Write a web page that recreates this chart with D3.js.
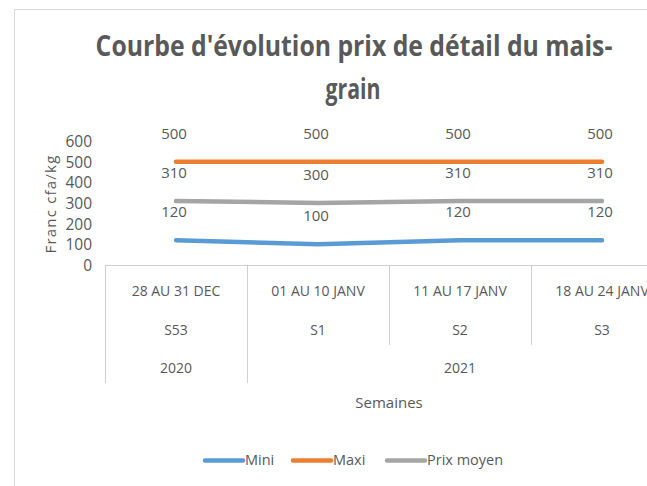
<!DOCTYPE html>
<html><head><meta charset="utf-8">
<script src="https://cdn.jsdelivr.net/npm/d3@7"></script>
<style>
html,body{margin:0;padding:0;background:#fff;overflow:hidden;}
text{font-family:"Open Sans",sans-serif;fill:#595959;}
</style></head>
<body><svg id="c" width="647" height="486"></svg>
<script>
const categories = ["28 AU 31 DEC","01 AU 10 JANV","11 AU 17 JANV","18 AU 24 JANV"];
const weeks = ["S53","S1","S2","S3"];
const years = ["2020","2021","2021","2021"];
const miniValues = [120,100,120,120];
const maxiValues = [500,500,500,500];
const moyenValues = [310,300,310,310];
const seriesNames = ["Mini","Maxi","Prix moyen"];
const seriesColors = ["#5B9BD5","#ED7D31","#A5A5A5"];
const yTickValues = [0,100,200,300,400,500,600];
const titleLines = ["Courbe d'évolution prix de détail du mais-","grain"];

const svg = d3.select("#c");

// chart border
svg.append("path").attr("d","M14.5,486 V9.5 H647").attr("fill","none").attr("stroke","#d9d9d9").attr("stroke-width",1);

function fitX(sel, w, cx){
  const n = sel.node(); const len = n.getComputedTextLength();
  const s = w/len;
  sel.attr("transform",`translate(${cx},0) scale(${s},1) translate(${-cx},0)`);
}

// title
const t1 = svg.append("text").attr("x",354).attr("y",56).attr("text-anchor","middle")
  .style("font-size","28px").style("font-weight","bold").text(titleLines[0]);
fitX(t1, 517, 354);
const t2 = svg.append("text").attr("x",353).attr("y",99).attr("text-anchor","middle")
  .style("font-size","28px").style("font-weight","bold").text(titleLines[1]);
fitX(t2, 55, 353);

const x = d3.scaleBand().domain(categories).range([105,673]).paddingInner(0).paddingOuter(0);
const y = d3.scaleLinear().domain([0,600]).range([265,141]);
const cx = d => x(d) + x.bandwidth()/2;

// y axis
const yAxis = svg.append("g").attr("transform","translate(92,0)")
  .call(d3.axisLeft(y).tickValues(yTickValues).tickSize(0).tickPadding(0));
yAxis.select(".domain").remove();
yAxis.selectAll("text").style("font-size","15.5px").style("font-family","'Open Sans',sans-serif")
  .attr("fill","#595959").attr("dy","0.36em").attr("x",0);

// y axis title
svg.append("text").attr("transform","translate(56,204) rotate(-90)").attr("text-anchor","middle")
  .style("font-size","15px").style("letter-spacing","1.2px").text("Franc cfa/kg");

// category box
const lineCol = "#d0d0d0";
const g = svg.append("g");
g.append("line").attr("x1",105).attr("x2",673).attr("y1",265.5).attr("y2",265.5).attr("stroke",lineCol);
const edges = categories.map(c=>x(c)).concat([x(categories[categories.length-1])+x.bandwidth()]);
edges.forEach((e,i)=>{
  const isYearEdge = (i===0 || i===edges.length-1 || years[i]!==years[i-1]);
  g.append("line").attr("x1",Math.round(e)+0.5).attr("x2",Math.round(e)+0.5)
    .attr("y1",265).attr("y2",isYearEdge?383:345).attr("stroke",lineCol);
});
categories.forEach((c,i)=>{
  svg.append("text").attr("x",cx(c)).attr("y",291).attr("dy","0.35em").attr("text-anchor","middle")
    .style("font-size","14px").text(c);
  svg.append("text").attr("x",cx(c)).attr("y",330).attr("dy","0.35em").attr("text-anchor","middle")
    .style("font-size","14px").text(weeks[i]);
});
// years grouped
const yearGroups = d3.groups(categories.map((c,i)=>({c,yr:years[i]})), d=>d.yr);
yearGroups.forEach(([yr,items])=>{
  const x0 = x(items[0].c), x1 = x(items[items.length-1].c)+x.bandwidth();
  svg.append("text").attr("x",(x0+x1)/2).attr("y",368).attr("dy","0.35em").attr("text-anchor","middle")
    .style("font-size","14px").text(yr);
});
svg.append("text").attr("x",389).attr("y",403).attr("dy","0.35em").attr("text-anchor","middle")
  .style("font-size","15px").text("Semaines");

// series
const series = [miniValues, maxiValues, moyenValues];
const line = d3.line().x((d,i)=>cx(categories[i])).y(d=>y(d));
series.forEach((vals,k)=>{
  svg.append("path").datum(vals).attr("d",line).attr("fill","none")
    .attr("stroke",seriesColors[k]).attr("stroke-width",4.5).attr("stroke-linecap","round").attr("stroke-linejoin","round");
});
series.forEach((vals,k)=>{
  vals.forEach((v,i)=>{
    svg.append("text").attr("x",cx(categories[i])-2).attr("y",y(v)-28.5).attr("dy","0.36em")
      .attr("text-anchor","middle").style("font-size","15px").text(v);
  });
});

// legend
const legX = [205,293,387];
seriesNames.forEach((n,k)=>{
  svg.append("line").attr("x1",legX[k]).attr("x2",legX[k]+38).attr("y1",460.5).attr("y2",460.5)
    .attr("stroke",seriesColors[k]).attr("stroke-width",4.5).attr("stroke-linecap","round");
  svg.append("text").attr("x",legX[k]+40).attr("y",460).attr("dy","0.36em").style("font-size","14.5px").text(n);
});
</script></body></html>
